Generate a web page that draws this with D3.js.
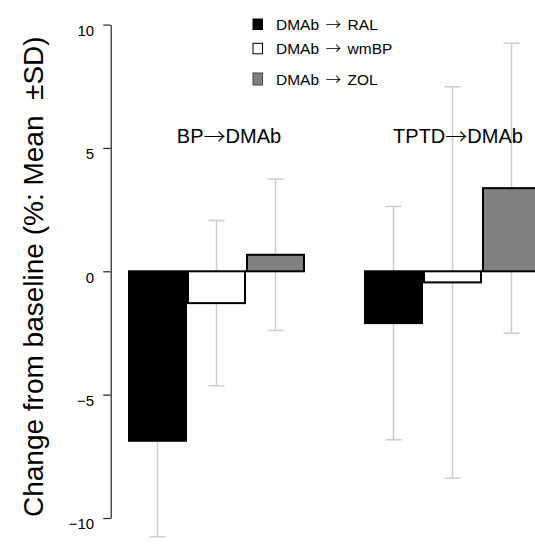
<!DOCTYPE html>
<html>
<head>
<meta charset="utf-8">
<script src="https://cdn.jsdelivr.net/npm/d3@7/dist/d3.min.js"></script>
<style>
  html, body { margin: 0; padding: 0; background: #fff; }
  svg { display: block; }
  text { font-family: "Liberation Sans", Arial, Helvetica, sans-serif; fill: #000; }
  .arw { font-family: "Noto Sans CJK JP", "Noto Sans CJK SC", sans-serif; font-weight: 300; }
</style>
</head>
<body>
<svg id="chart" width="535" height="547"></svg>
<script>
// ---- data ----
const groups = ["BP→DMAb", "TPTD→DMAb"];
const series = ["DMAb→RAL", "DMAb→wmBP", "DMAb→ZOL"];
const bpMeans   = [-6.87, -1.29, 0.67];
const bpSDs     = [3.89, 3.35, 3.07];
const tptdMeans = [-2.10, -0.45, 3.37];
const tptdSDs   = [4.73, 7.93, 5.88];
const yTicks = [-10, -5, 0, 5, 10];
const yLabel = "Change from baseline (%: Mean  ±SD)";

// ---- styles ----
const fills = ["#000000", "#ffffff", "#808080"];
const errColor = "#cccccc";

const svg = d3.select("#chart");

const y = d3.scaleLinear().domain([-10, 10]).range([518, 24.6]);
const x0 = d3.scaleBand().domain(groups).range([128, 541]).paddingInner(0.25).paddingOuter(0);
const x1 = d3.scaleBand().domain(series).range([0, x0.bandwidth()]).padding(0);

const rows = [];
groups.forEach((g, gi) => {
  const m = gi === 0 ? bpMeans : tptdMeans;
  const s = gi === 0 ? bpSDs : tptdSDs;
  series.forEach((se, si) => rows.push({ g, se, si, mean: m[si], sd: s[si] }));
});

// error bars (behind bars)
const capW = 16;
const eb = svg.append("g").attr("stroke", errColor).attr("stroke-width", 1.5);
rows.forEach(d => {
  const cx = x0(d.g) + x1(d.se) + x1.bandwidth() / 2;
  const lo = y(d.mean - d.sd), hi = y(d.mean + d.sd);
  eb.append("line").attr("x1", cx).attr("x2", cx).attr("y1", hi).attr("y2", lo);
  eb.append("line").attr("x1", cx - capW / 2).attr("x2", cx + capW / 2).attr("y1", hi).attr("y2", hi);
  eb.append("line").attr("x1", cx - capW / 2).attr("x2", cx + capW / 2).attr("y1", lo).attr("y2", lo);
});

// bars
svg.append("g").selectAll("rect").data(rows).join("rect")
  .attr("x", d => x0(d.g) + x1(d.se) + 1)
  .attr("width", x1.bandwidth() - 2)
  .attr("y", d => y(Math.max(0, d.mean)))
  .attr("height", d => Math.abs(y(d.mean) - y(0)))
  .attr("fill", d => fills[d.si])
  .attr("stroke", "#000")
  .attr("stroke-width", 2);

// y axis
const axis = d3.axisLeft(y).tickValues(yTicks).tickSizeInner(7.5).tickSizeOuter(0).tickPadding(9)
  .tickFormat(d3.format("d"));
const ag = svg.append("g").attr("transform", "translate(110.7,0)").call(axis);
ag.select(".domain").attr("stroke", "#222").attr("stroke-width", 1.2);
ag.selectAll(".tick line").attr("stroke", "#222").attr("stroke-width", 1.2);
ag.selectAll(".tick text").attr("font-size", 15).attr("dy", "0.72em")
  .attr("font-family", "'Liberation Sans', Arial, sans-serif").attr("fill", "#000");

// helper: text with a fullwidth thin arrow
function arrowText(parent, str, fs, arrowScale, gap) {
  const t = parent.append("text").attr("font-size", fs);
  const parts = str.split("→");
  const afs = fs * arrowScale;
  const shift = 0.36 * (afs - fs);
  const a = t.append("tspan").text(parts[0]);
  const ar = t.append("tspan").attr("class", "arw").attr("font-size", afs)
    .attr("dx", gap).attr("dy", shift).text("→");
  const b = t.append("tspan").attr("dx", gap).attr("dy", -shift).text(parts[1]);
  const total = a.node().getComputedTextLength() + ar.node().getComputedTextLength()
    + b.node().getComputedTextLength() + 2 * gap;
  return { t, total };
}

// group labels
const groupLabelCx = [229, 458];
groups.forEach((g, i) => {
  const r = arrowText(svg, g, 20, 1.1, 0);
  r.t.attr("x", groupLabelCx[i] - r.total / 2).attr("y", 143);
});

// legend
const legBase = [30, 54.3, 85];
series.forEach((s, i) => {
  svg.append("rect").attr("x", 253).attr("y", legBase[i] - 11 + (i === 2 ? -1 : 0))
    .attr("width", 9.5).attr("height", i === 2 ? 12 : 10.5)
    .attr("fill", fills[i]).attr("stroke", i === 2 ? "#444" : "#000").attr("stroke-width", 1);
  const r = arrowText(svg, s, 15.5, 1.0, 6.5);
  r.t.attr("x", 276).attr("y", legBase[i]);
});

// y-axis title
svg.append("text")
  .attr("transform", "translate(42.5,276.7) rotate(-90)")
  .attr("text-anchor", "middle")
  .attr("font-size", 28)
  .style("white-space", "pre")
  .text(yLabel);
</script>
</body>
</html>
